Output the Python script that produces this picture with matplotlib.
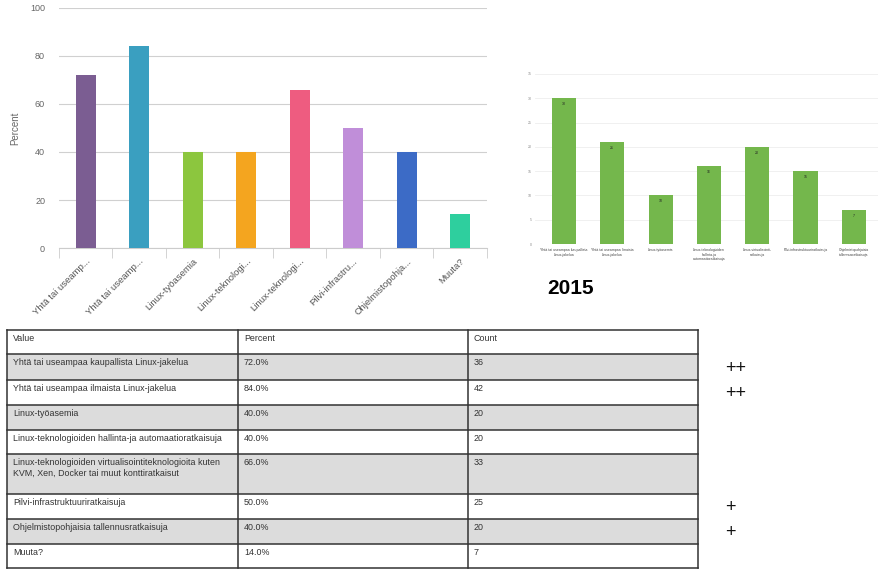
import matplotlib.pyplot as plt
from matplotlib.patches import Rectangle
import numpy as np

# survey answers (left chart + table)
labels_full = ["Yhtä tai useampaa kaupallista Linux-jakelua",
               "Yhtä tai useampaa ilmaista Linux-jakelua",
               "Linux-työasemia",
               "Linux-teknologioiden hallinta-ja automaatioratkaisuja",
               "Linux-teknologioiden virtualisointiteknologioita kuten\nKVM, Xen, Docker tai muut konttiratkaisut",
               "Pilvi-infrastruktuuriratkaisuja",
               "Ohjelmistopohjaisia tallennusratkaisuja",
               "Muuta?"]
labels_short = ["Yhtä tai useamp...", "Yhtä tai useamp...", "Linux-työasemia",
                "Linux-teknologi...", "Linux-teknologi...", "Pilvi-infrastru...",
                "Ohjelmistopohja...", "Muuta?"]
percent = [72.0, 84.0, 40.0, 40.0, 66.0, 50.0, 40.0, 14.0]
count = [36, 42, 20, 20, 33, 25, 20, 7]
bar_colors = ["#7b5d92", "#3a9fc0", "#8cc63e", "#f4a51f", "#ee5c80",
              "#c08ed9", "#3c6bc6", "#2ecf9e"]
marks = ["++", "++", "", "", "", "+", "+", ""]

# 2015 chart (green)
labels_2015 = ["Yhtä tai useampaa kaupallista\nLinux-jakelua",
               "Yhtä tai useampaa ilmaista\nLinux-jakelua",
               "Linux-työasemia",
               "Linux-teknologioiden\nhallinta-ja\nautomaatioratkaisuja",
               "Linux-virtualisointi-\nratkaisuja",
               "Pilvi-infrastruktuuriratkaisuja",
               "Ohjelmistopohjaisia\ntallennusratkaisuja"]
values_2015 = [30, 21, 10, 16, 20, 15, 7]

W, H = 879, 569
fig = plt.figure(figsize=(W / 100, H / 100), dpi=100)
plt.rcParams['font.family'] = ['Liberation Sans', 'DejaVu Sans']


def box(l, t, r, b):
    return [l / W, 1 - b / H, (r - l) / W, (b - t) / H]


# ---- left chart
ax = fig.add_axes(box(59, 8, 487, 248))
x = np.arange(len(percent))
ax.bar(x, percent, width=0.37, color=bar_colors, zorder=3)
ax.set_xlim(-0.5, len(percent) - 0.5)
ax.set_ylim(0, 100)
ax.set_yticks(np.arange(0, 101, 20))
ax.yaxis.grid(True, color="#d0d0d0", lw=0.8, zorder=0)
ax.tick_params(axis="y", length=0, labelsize=6.5, labelcolor="#666666", pad=10)
ax.set_xticks(x)
ax.set_xticklabels(labels_short, rotation=45, ha="right", rotation_mode="anchor",
                   fontsize=6.8, color="#555555")
ax.tick_params(axis="x", which="major", length=0, pad=6)
ax.set_xticks(np.arange(-0.5, len(percent), 1), minor=True)
ax.tick_params(axis="x", which="minor", length=7, color="#cccccc")
for s in ["top", "right", "left"]:
    ax.spines[s].set_visible(False)
ax.spines["bottom"].set_color("#cccccc")
ax.set_ylabel("Percent", fontsize=7, color="#666666", labelpad=7)

# ---- 2015 chart
ax2 = fig.add_axes(box(535, 74, 879, 244))
x2 = np.arange(len(values_2015))
bars = ax2.bar(x2, values_2015, width=0.5, color="#74b74c", zorder=3)
ax2.set_xlim(-0.6, 6.52)
ax2.set_ylim(0, 35)
ax2.set_yticks(np.arange(0, 36, 5))
ax2.tick_params(axis="y", length=0, labelsize=2.5, labelcolor="#888888", pad=2)
ax2.yaxis.grid(True, color="#eeeeee", lw=0.6, zorder=0)
ax2.set_xticks(x2)
ax2.set_xticklabels(labels_2015, fontsize=2.5, color="#444444", va="top")
ax2.tick_params(axis="x", length=0, pad=3)
for s in ["top", "right", "left", "bottom"]:
    ax2.spines[s].set_visible(False)
for b, v in zip(bars, values_2015):
    ax2.text(b.get_x() + b.get_width() / 2, v - 0.8, str(v), fontsize=2.5,
             ha="center", va="top", color="#222222")
fig.text(547 / W, 1 - 289 / H, "2015", fontsize=15, fontweight="bold",
         va="center", ha="left")

# ---- table
at = fig.add_axes([0, 0, 1, 1])
at.set_xlim(0, W)
at.set_ylim(H, 0)
at.axis("off")
cols = [7, 238, 468, 698]
rows = [330, 354, 380, 405, 430, 454, 494, 519, 544, 568]
header = ["Value", "Percent", "Count"]
for i in range(len(rows) - 1):
    top, bot = rows[i], rows[i + 1]
    if i % 2 == 1:
        at.add_patch(Rectangle((cols[0], top), cols[-1] - cols[0], bot - top,
                               facecolor="#dcdcdc", edgecolor="none", zorder=1))
    if i == 0:
        cells = header
    else:
        k = i - 1
        cells = [labels_full[k], "%.1f%%" % percent[k], str(count[k])]
        if marks[k]:
            at.text(725, (top + bot) / 2 + 1, marks[k], fontsize=13,
                    ha="left", va="center", color="#111111")
    for c, txt in enumerate(cells):
        at.text(cols[c] + 6, top + 4, txt, fontsize=6.4, ha="left", va="top",
                color="#333333", linespacing=1.2, zorder=3)
for r in rows:
    at.plot([cols[0], cols[-1]], [r, r], color="#333333", lw=1.1, zorder=2)
for c in cols:
    at.plot([c, c], [rows[0], rows[-1]], color="#333333", lw=1.1, zorder=2)

fig.savefig("out.png", dpi=100)
